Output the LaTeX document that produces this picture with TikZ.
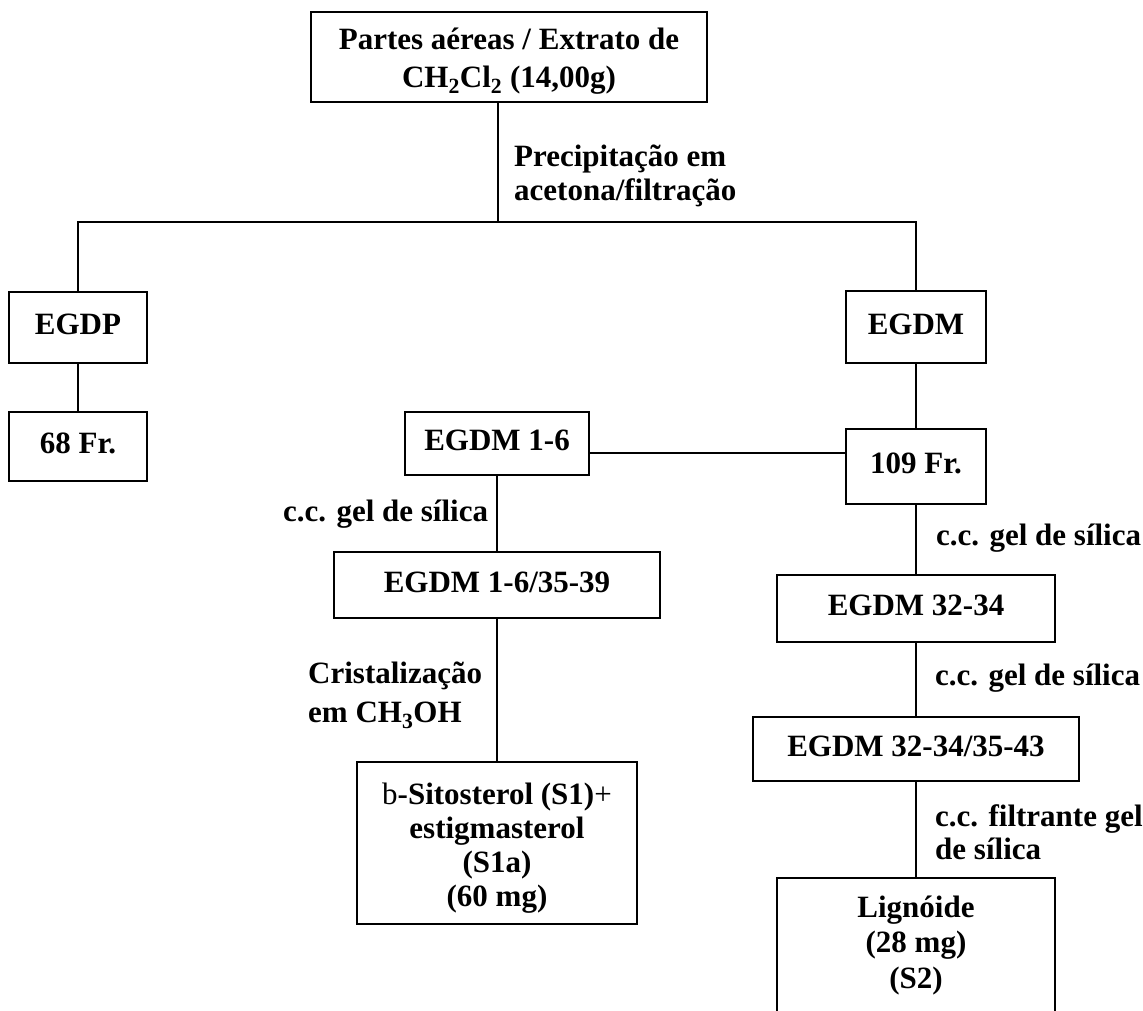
\documentclass[tikz,border=0pt]{standalone}
\usepackage{fontspec}
\setmainfont{Liberation Serif}
\newcommand\fsz{\fontsize{31}{35.5}\selectfont}
\begin{document}
\begin{tikzpicture}[x=1pt,y=-1pt,
  box/.style={draw, line width=1.6pt, inner sep=0pt, align=center, font=\fsz\bfseries},
  lbl/.style={inner sep=0pt, align=left, anchor=north west, font=\fsz\bfseries},
  conn/.style={line width=1.6pt}]
\useasboundingbox (0,0) rectangle (1143,1011);

% boxes
\node[box, minimum width=396pt, minimum height=90pt] (top) at (509,57)
  {\rule{0pt}{34pt}Partes aéreas / Extrato de\\[2.5pt]CH\textsubscript{2}Cl\textsubscript{2} (14,00g)\strut};
\node[box, minimum width=138pt, minimum height=71pt] (egdp) at (78,327.5) {\strut EGDP};
\node[box, minimum width=138pt, minimum height=69pt] (fr68) at (78,446.5) {\strut 68 Fr.};
\node[box, minimum width=140pt, minimum height=72pt] (egdm) at (916,327) {\strut EGDM};
\node[box, minimum width=140pt, minimum height=75pt] (fr109) at (916,466.5) {\strut 109 Fr.};
\node[box, minimum width=184pt, minimum height=63pt] (egdm16) at (497,443.5) {\strut EGDM 1-6};
\node[box, minimum width=326pt, minimum height=66pt] (egdm1635) at (497,585) {\strut EGDM 1-6/35-39};
\node[box, minimum width=280pt, minimum height=162pt] (sito) at (497,843)
  {\rule{0pt}{34.65pt}{\mdseries b}-Sitosterol (S1){\mdseries +}\\[-1.5pt]estigmasterol\\[-1.5pt](S1a)\\[-1.5pt](60 mg)\strut};
\node[box, minimum width=278pt, minimum height=67pt] (e3234) at (916,608.5) {\strut EGDM 32-34};
\node[box, minimum width=326pt, minimum height=64pt] (e323435) at (916,749) {\strut EGDM 32-34/35-43};
\node[box, minimum width=278pt, minimum height=135pt] (lig) at (916,945.5)
  {\strut Lignóide\\(28 mg)\\(S2)\strut};

% labels
\node[lbl] (prec) at (514,141.15) {\strut Precipitação em\\[-1.5pt]acetona/filtração};
\node[lbl] (ccl) at (283,496.15) {\strut c.c. gel de sílica};
\node[lbl] (crist) at (308,658.15) {\strut Cristalização\\[3.5pt]em CH\textsubscript{3}OH};
\node[lbl] (ccr1) at (936,520.15) {\strut c.c. gel de sílica};
\node[lbl] (ccr2) at (935,660.15) {\strut c.c. gel de sílica};
\node[lbl] (ccr3) at (935,801.15) {\strut c.c. filtrante gel\\[-2.5pt]de sílica};

% connectors
\coordinate (split) at (498,222);
\coordinate (hline) at (700,453);
\draw[conn] (top.south -| split) -- (split);
\draw[conn] (egdp.north) -- (egdp.north |- split) -- (egdm.north |- split) -- (egdm.north);
\draw[conn] (egdp.south) -- (fr68.north);
\draw[conn] (egdm.south) -- (fr109.north);
\draw[conn] (egdm16.east |- hline) -- (fr109.west |- hline);
\draw[conn] (egdm16.south) -- (egdm1635.north);
\draw[conn] (egdm1635.south) -- (egdm1635.south |- sito.north);
\draw[conn] (fr109.south) -- (fr109.south |- e3234.north);
\draw[conn] (e3234.south) -- (e3234.south |- e323435.north);
\draw[conn] (e323435.south) -- (e323435.south |- lig.north);
\end{tikzpicture}
\end{document}
